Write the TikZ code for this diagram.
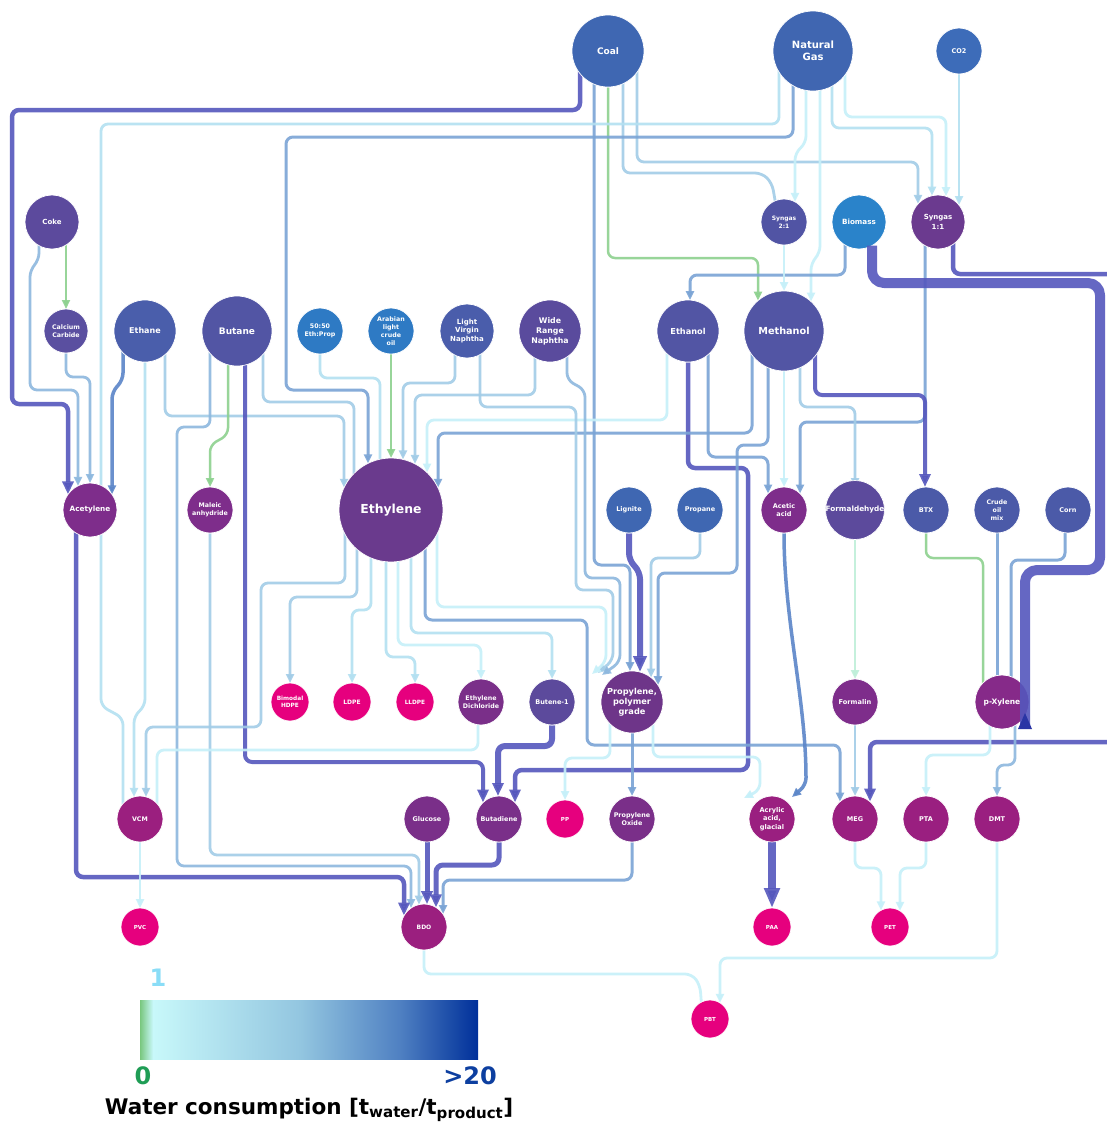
\documentclass[tikz,border=0pt]{standalone}
\usepackage{fontspec}
\setmainfont{DejaVu Sans}
\usetikzlibrary{arrows.meta,calc}
\pgfdeclarelayer{bg}
\pgfsetlayers{bg,main}
% node colours
\definecolor{nCoal}{HTML}{3F67B2}
\definecolor{nNG}{HTML}{4066B1}
\definecolor{nCO}{HTML}{3D6CB9}
\definecolor{nCoke}{HTML}{5C4A9D}
\definecolor{nCaC}{HTML}{5A4FA0}
\definecolor{nEthane}{HTML}{4A5EAB}
\definecolor{nButane}{HTML}{5255A4}
\definecolor{nEP}{HTML}{2E7AC4}
\definecolor{nLVN}{HTML}{4A5DAB}
\definecolor{nWRN}{HTML}{5A4B9D}
\definecolor{nSynA}{HTML}{5154A4}
\definecolor{nBio}{HTML}{2A83CA}
\definecolor{nSynB}{HTML}{6B3A8F}
\definecolor{nAcet}{HTML}{7E2D8B}
\definecolor{nEthy}{HTML}{6A3A8D}
\definecolor{nForm}{HTML}{5C4A9C}
\definecolor{nBTX}{HTML}{4B5AA8}
\definecolor{nPink}{HTML}{E6007E}
\definecolor{nEDC}{HTML}{7A2F89}
\definecolor{nPpg}{HTML}{6E3589}
\definecolor{nPx}{HTML}{862A89}
\definecolor{nVCM}{HTML}{9B1F7F}
\definecolor{nMEG}{HTML}{9A1F80}
% line colours
\definecolor{gr}{HTML}{8DD18F}
\definecolor{mint}{HTML}{BFEFD9}
\definecolor{c1}{HTML}{C6F0F9}
\definecolor{c2}{HTML}{B3E0F1}
\definecolor{c3}{HTML}{A2CCE7}
\definecolor{c4}{HTML}{8DB8DE}
\definecolor{c5}{HTML}{7AA4D5}
\definecolor{c6}{HTML}{5A85C8}
\definecolor{c7}{HTML}{5557BD}
\definecolor{dkarrow}{HTML}{2A35A5}
% legend colours
\definecolor{lgA}{HTML}{79C77E}
\definecolor{lgB}{HTML}{C8F8FA}
\definecolor{lgC}{HTML}{93C6E0}
\definecolor{lgD}{HTML}{4F80C2}
\definecolor{lgE}{HTML}{00309A}
\definecolor{txOne}{HTML}{8ADDF7}
\definecolor{txZero}{HTML}{1F9D55}
\definecolor{txMax}{HTML}{0D3FA0}
\tikzset{
  nd/.style n args={4}{circle, inner sep=0pt, minimum size=#1, fill=#2, draw=white,
    line width=0.7pt, text=white, align=center, font=\bfseries\fontsize{#3}{#4}\selectfont},
  ln/.style={line width=2.8pt, rounded corners=7pt, opacity=0.9, line join=round},
  ar/.style={-{Triangle[length=9pt,width=8pt]}},
  arb/.style={-{Triangle[length=13pt,width=11pt]}},
  lgtext/.style={font=\bfseries\fontsize{24}{28}\selectfont, inner sep=0pt}
}
\begin{document}
\begin{tikzpicture}[x=1pt,y=-1pt]
\useasboundingbox (0,0) rectangle (1107,1122);
% ---------------- nodes ----------------
\node[nd={72pt}{nCoal}{9}{11}] (coal) at (608,51) {Coal};
\node[nd={80pt}{nNG}{10}{12}] (ng) at (813,51) {Natural\\Gas};
\node[nd={46pt}{nCO}{6.5}{8}] (co2) at (959,51) {CO2};
\node[nd={54pt}{nCoke}{7}{8}] (coke) at (52,222) {Coke};
\node[nd={46pt}{nSynA}{6}{7.6}] (syn21) at (784,222) {Syngas\\2:1};
\node[nd={54pt}{nBio}{7.2}{9}] (bio) at (859,222) {Biomass};
\node[nd={54pt}{nSynB}{7}{9.5}] (syn11) at (938,222) {Syngas\\1:1};
\node[nd={44pt}{nCaC}{6.3}{8.3}] (cac) at (66,331) {Calcium\\Carbide};
\node[nd={62pt}{nEthane}{8}{10}] (ethane) at (145,331) {Ethane};
\node[nd={70pt}{nButane}{9}{11}] (butane) at (237,331) {Butane};
\node[nd={46pt}{nEP}{6.3}{8}] (ep) at (320,331) {50:50\\Eth:Prop};
\node[nd={46pt}{nEP}{6.3}{8}] (arab) at (391,331) {Arabian\\light\\crude\\oil};
\node[nd={54pt}{nLVN}{7}{8.8}] (lvn) at (467,331) {Light\\Virgin\\Naphtha};
\node[nd={62pt}{nWRN}{7.8}{10}] (wrn) at (550,331) {Wide\\Range\\Naphtha};
\node[nd={62pt}{nButane}{8.2}{10}] (ethanol) at (688,331) {Ethanol};
\node[nd={80pt}{nButane}{9.7}{12}] (meth) at (784,331) {Methanol};
\node[nd={54pt}{nAcet}{7.3}{9}] (acet) at (90,510) {Acetylene};
\node[nd={46pt}{nAcet}{6.3}{8.3}] (mal) at (210,510) {Maleic\\anhydride};
\node[nd={104pt}{nEthy}{12.4}{15}] (ethy) at (391,510) {Ethylene};
\node[nd={46pt}{nCoal}{6.5}{8}] (lig) at (629,510) {Lignite};
\node[nd={46pt}{nCoal}{6.5}{8}] (prop) at (700,510) {Propane};
\node[nd={46pt}{nAcet}{6.5}{8.3}] (acac) at (784,510) {Acetic\\acid};
\node[nd={46pt}{nForm}{7.3}{8}] (form) at (855,510) {Formaldehyde};
\node[nd={46pt}{nBTX}{6.5}{8}] (btx) at (926,510) {BTX};
\node[nd={46pt}{nBTX}{6.3}{8.2}] (crude) at (997,510) {Crude\\oil\\mix};
\node[nd={46pt}{nBTX}{6.5}{8}] (corn) at (1068,510) {Corn};
\node[nd={38pt}{nPink}{5.8}{7.5}] (hdpe) at (290,702) {Bimodal\\HDPE};
\node[nd={38pt}{nPink}{6}{7.5}] (ldpe) at (352,702) {LDPE};
\node[nd={38pt}{nPink}{5.8}{7.5}] (lldpe) at (415,702) {LLDPE};
\node[nd={46pt}{nEDC}{6.3}{8}] (edc) at (481,702) {Ethylene\\Dichloride};
\node[nd={46pt}{nForm}{6.5}{8}] (but1) at (552,702) {Butene-1};
\node[nd={62pt}{nPpg}{8.2}{10.2}] (ppg) at (632,702) {Propylene,\\polymer\\grade};
\node[nd={46pt}{nAcet}{6.6}{8}] (formalin) at (855,702) {Formalin};
\node[nd={54pt}{nPx}{7.5}{9}] (px) at (1002,702) {p-Xylene};
\node[nd={46pt}{nVCM}{6.3}{8}] (vcm) at (140,819) {VCM};
\node[nd={46pt}{nEDC}{6.5}{8}] (glu) at (427,819) {Glucose};
\node[nd={46pt}{nEDC}{6.4}{8}] (bd) at (499,819) {Butadiene};
\node[nd={38pt}{nPink}{5.5}{7}] (pp) at (565,819) {PP};
\node[nd={46pt}{nEDC}{6.4}{8.2}] (po) at (632,819) {Propylene\\Oxide};
\node[nd={46pt}{nMEG}{6.6}{8.2}] (acr) at (772,819) {Acrylic\\acid,\\glacial};
\node[nd={46pt}{nMEG}{6.5}{8}] (meg) at (855,819) {MEG};
\node[nd={46pt}{nMEG}{6.5}{8}] (pta) at (926,819) {PTA};
\node[nd={46pt}{nMEG}{6.5}{8}] (dmt) at (997,819) {DMT};
\node[nd={38pt}{nPink}{5.5}{7}] (pvc) at (140,927) {PVC};
\node[nd={46pt}{nVCM}{6}{8}] (bdo) at (424,927) {BDO};
\node[nd={38pt}{nPink}{5.5}{7}] (paa) at (772,927) {PAA};
\node[nd={38pt}{nPink}{5.5}{7}] (pet) at (890,927) {PET};
\node[nd={38pt}{nPink}{5.5}{7}] (pbt) at (710,1019) {PBT};
% ---------------- connectors (behind nodes) ----------------
\begin{pgfonlayer}{bg}
\fill[white] (0,0) rectangle (1107,1122);
% Coal
\draw[ln,c7,line width=4.5pt,arb] ($(coal)+(-28,0)$) -- (580,110) -- (12,110) -- (12,404) -- (68,404) -- ($(acet)+(-22,-15.6)$);
\draw[ln,c3,ar] ($(coal)+(29,0)$) -- (637,162) -- (918,162) -- ($(syn11)+(-20,-18.1)$);
\draw[ln,c3] ($(coal)+(15,0)$) -- (623,173) -- (762,173) -- (772,183) -- ($(syn21)+(-6,-5)$);
\draw[ln,gr,line width=2.5pt,ar] (coal) -- (608,258) -- (758,258) -- ($(meth)+(-26,-30.4)$);
\draw[ln,c5,line width=3pt,ar] ($(coal)+(-14,0)$) -- (594,565) -- (630,565) -- ($(ppg)+(-2,-30.9)$);
% Natural gas
\draw[ln,c2] ($(ng)+(-34,0)$) -- (779,124) -- (101,124) -- (101,706) -- (123,718) -- ($(vcm)+(-17,-5)$);
\draw[ln,c5,line width=3pt,ar] ($(ng)+(-20,0)$) -- (793,137) -- (286,137) -- (286,390) -- (368,390) -- ($(ethy)+(-23,-46.6)$);
\draw[ln,c1,ar] ($(ng)+(-7,0)$) -- (806,143) -- (795,153) -- ($(syn21)+(11,-20.2)$);
\draw[ln,c1,ar] ($(ng)+(7,0)$) -- (820,253) -- (811,263) -- ($(meth)+(27,-29.5)$);
\draw[ln,c2,ar] ($(ng)+(19,0)$) -- (832,128) -- (932,128) -- ($(syn11)+(-6,-26.3)$);
\draw[ln,c1,ar] ($(ng)+(32,0)$) -- (845,117) -- (946,117) -- ($(syn11)+(8,-25.8)$);
\draw[ln,c2,ar] (co2) -- ($(syn11)+(21,-17)$);
% Coke / calcium carbide / ethane
\draw[ln,gr,line width=2.5pt,ar] ($(coke)+(14,0)$) -- ($(cac)+(0,-22)$);
\draw[ln,c4,ar] ($(coke)+(-13,0)$) -- (39,260) -- (30,270) -- (30,390) -- (78,390) -- ($(acet)+(-12,-24.2)$);
\draw[ln,c4,ar] (cac) -- (66,377) -- (90,377) -- ($(acet)+(0,-27)$);
\draw[ln,c6,line width=3.5pt,ar] ($(ethane)+(-22,0)$) -- (123,380) -- (112,392) -- ($(acet)+(22,-15.6)$);
\draw[ln,c2,ar] (ethane) -- (145,706) -- (134,716) -- ($(vcm)+(-6,-22.2)$);
\draw[ln,c3,ar] ($(ethane)+(20,0)$) -- (165,416) -- (344,416) -- ($(ethy)+(-47,-22.25)$);
% Syngas / biomass
\draw[ln,c5,line width=3pt,ar] ($(bio)+(-14,0)$) -- (845,275) -- (690,275) -- ($(ethanol)+(2,-30.9)$);
\draw[ln,c7,line width=4.5pt,arb] ($(syn11)+(15,0)$) -- (953,274) -- (1125,274) -- (1125,742) -- (870,742) -- ($(meg)+(15,-17.4)$);
\draw[ln,c5,line width=3pt,ar] ($(syn11)+(-13,0)$) -- (925,422) -- (800,422) -- ($(acac)+(16,-16.5)$);
\draw[ln,c1,ar] (syn21) -- ($(meth)+(0,-40)$);
% Ethanol
\draw[ln,c1,ar] ($(ethanol)+(-21,0)$) -- (667,420) -- (427,420) -- ($(ethy)+(36,-37.5)$);
\draw[ln,c7,line width=4.5pt,arb] (ethanol) -- (688,468) -- (748,468) -- (748,770) -- (515,770) -- ($(bd)+(16,-16.5)$);
\draw[ln,c5,line width=3pt,ar] ($(ethanol)+(20,0)$) -- (708,457) -- (768,457) -- ($(acac)+(-16,-16.5)$);
% Methanol
\draw[ln,c5,line width=3pt,ar] ($(meth)+(-32,0)$) -- (752,433) -- (438,433) -- ($(ethy)+(47,-22.25)$);
\draw[ln,c5,line width=3pt,ar] ($(meth)+(-16,0)$) -- (768,445) -- (737,445) -- (737,573) -- (658,573) -- ($(ppg)+(26,-16.9)$);
\draw[ln,c1,ar] (meth) -- ($(acac)+(0,-23)$);
\draw[ln,c3,ar] ($(meth)+(16,0)$) -- (800,407) -- (855,407) -- ($(form)+(0,-23)$);
\draw[ln,c7,line width=4pt,arb] ($(meth)+(31,0)$) -- (815,395) -- (925,395) -- ($(btx)+(-1,-23)$);
% Propylene feeds
\draw[ln,c3,ar] (prop) -- (700,558) -- (651,558) -- ($(ppg)+(19,-24.5)$);
\draw[ln,c7,line width=6pt,-{Triangle[length=16pt,width=13pt]}] (lig) -- (629,560) -- (640,572) -- ($(ppg)+(8,-29.95)$);
\draw[ln,c3,ar] ($(lvn)+(13,0)$) -- (480,407) -- (576,407) -- (576,590) -- (613,590) -- (613,660) -- (598,673);
\draw[ln,c4,ar] ($(wrn)+(17,0)$) -- (567,380) -- (585,390) -- (585,578) -- (620,578) -- (620,662) -- (602,675);
\draw[ln,c1,ar] ($(ethy)+(46,0)$) -- (437,607) -- (606,607) -- (606,662) -- (592,674);
% Ethylene feeds
\draw[ln,c3,ar] ($(lvn)+(-12,0)$) -- (455,383) -- (403,383) -- ($(ethy)+(12,-50.6)$);
\draw[ln,c3,ar] ($(wrn)+(-15,0)$) -- (535,395) -- (415,395) -- ($(ethy)+(24,-46.1)$);
\draw[ln,gr,line width=2.5pt,ar] (arab) -- ($(ethy)+(0,-52)$);
\draw[ln,c2] (ep) -- (320,378) -- (380,378) -- ($(ethy)+(-11,-40)$);
\draw[ln,c3] ($(butane)+(26,0)$) -- (263,402) -- (354,402) -- ($(ethy)+(-37,-25)$);
% Butane
\draw[ln,c4,ar] ($(butane)+(-27,0)$) -- (210,427) -- (177,427) -- (177,866) -- (411,866) -- ($(bdo)+(-13,-19)$);
\draw[ln,gr,line width=2.5pt,ar] ($(butane)+(-9,0)$) -- (228,435) -- (210,445) -- ($(mal)+(0,-23)$);
\draw[ln,c7,line width=4pt,arb] ($(butane)+(8,0)$) -- (245,762) -- (483,762) -- ($(bd)+(-16,-16.5)$);
% BDO feeds
\draw[ln,c3,ar] (mal) -- (210,855) -- (419,855) -- ($(bdo)+(-5,-22.45)$);
\draw[ln,c7,line width=4.5pt,arb] ($(acet)+(-14,0)$) -- (76,877) -- (404,877) -- ($(bdo)+(-20,-11.4)$);
\draw[ln,c7,line width=5pt,arb] (glu) -- ($(bdo)+(3,-22.8)$);
\draw[ln,c7,line width=5pt,arb] (bd) -- (499,865) -- (436,865) -- ($(bdo)+(12,-19.6)$);
\draw[ln,c5,line width=3pt,ar] (po) -- (632,880) -- (443,880) -- ($(bdo)+(19,-13)$);
\draw[ln,c7,line width=6pt,arb] (but1) -- (552,746) -- (498,746) -- ($(bd)+(-1,-23)$);
% VCM feeds
\draw[ln,c1] ($(edc)+(-3,0)$) -- (478,750) -- (157,750) -- ($(vcm)+(17,-5)$);
\draw[ln,c3,ar] ($(ethy)+(-46,0)$) -- (345,583) -- (261,583) -- (261,727) -- (146,727) -- ($(vcm)+(6,-22.2)$);
% Ethylene products
\draw[ln,c3,ar] ($(ethy)+(-34,0)$) -- (357,597) -- (290,597) -- ($(hdpe)+(0,-19)$);
\draw[ln,c2,ar] ($(ethy)+(-20,0)$) -- (371,610) -- (352,610) -- ($(ldpe)+(0,-19)$);
\draw[ln,c2,ar] ($(ethy)+(-5,0)$) -- (386,657) -- (415,657) -- ($(lldpe)+(0,-19)$);
\draw[ln,c1,ar] ($(ethy)+(7,0)$) -- (398,645) -- (481,645) -- ($(edc)+(0,-23)$);
\draw[ln,c2,ar] ($(ethy)+(20,0)$) -- (411,633) -- (552,633) -- ($(but1)+(0,-23)$);
\draw[ln,c5,line width=3pt,ar] ($(ethy)+(34,0)$) -- (425,620) -- (587,620) -- (587,745) -- (840,745) -- ($(meg)+(-15,-17.4)$);
% Propylene products
\draw[ln,c1,ar] ($(ppg)+(-22,0)$) -- (610,758) -- (565,758) -- ($(pp)+(0,-19)$);
\draw[ln,c5,line width=3pt,ar] (ppg) -- ($(po)+(0,-23)$);
\draw[ln,c1,ar] ($(ppg)+(21,0)$) -- (653,757) -- (760,757) -- (760,790) -- (744,798);
% Acetic / acrylic / formaldehyde
\draw[ln,c6,line width=3.5pt,ar] (acac) .. controls (784,620) and (806,700) .. (806,785) -- (792,797);
\draw[ln,c7,line width=8pt,-{Triangle[length=20pt,width=15pt]}] (acr) -- ($(paa)+(0,-19)$);
\draw[ln,mint,line width=2.5pt,ar] (form) -- ($(formalin)+(0,-23)$);
\draw[ln,c3,ar] (formalin) -- ($(meg)+(0,-23)$);
% p-Xylene
\draw[ln,gr,line width=2.5pt] (btx) -- (926,558) -- (983,558) -- ($(px)+(-19,-10)$);
\draw[ln,c5,line width=3pt] (crude) -- ($(px)+(-5,-10)$);
\draw[ln,c5,line width=3pt] ($(corn)+(-3,0)$) -- (1065,560) -- (1011,560) -- ($(px)+(9,-10)$);
\draw[ln,c1,ar] ($(px)+(-12,0)$) -- (990,755) -- (926,755) -- ($(pta)+(0,-23)$);
\draw[ln,c4,ar] ($(px)+(13,0)$) -- (1015,765) -- (997,765) -- ($(dmt)+(0,-23)$);
% final products
\draw[ln,c1,ar] (meg) -- (855,868) -- (881,868) -- ($(pet)+(-9,-16.7)$);
\draw[ln,c1,ar] (pta) -- (926,868) -- (900,868) -- ($(pet)+(10,-16.2)$);
\draw[ln,c1,ar] (dmt) -- (997,958) -- (720,958) -- ($(pbt)+(10,-16.2)$);
\draw[ln,c1] (bdo) -- (424,974) -- (692,974) -- (700,985) -- ($(pbt)+(-8,-8)$);
\draw[ln,c1,ar] (vcm) -- ($(pvc)+(0,-19)$);
\end{pgfonlayer}
% Biomass -> p-Xylene (drawn over the nodes)
\draw[ln,c7,line width=10pt,rounded corners=12pt] ($(bio)+(13,23.7)$) -- (872,283) -- (1100,283) -- (1100,570) -- (1025,570) -- (1025,728);
\fill[dkarrow] (1018,729) -- (1032,729) -- (1025,713) -- cycle;
% ---------------- legend ----------------
\shade[left color=lgA, right color=lgB] (140,1000) rectangle (153,1059);
\shade[left color=lgB, right color=lgC] (153,1000) rectangle (300,1059);
\shade[left color=lgC, right color=lgD] (300,1000) rectangle (400,1059);
\shade[left color=lgD, right color=lgE] (400,1000) rectangle (478,1059);
\node[lgtext, text=txOne] (lone) at (158,978) {1};
\node[lgtext, text=txZero] (lzero) at (143,1076) {0};
\node[lgtext, text=txMax] (lmax) at (470,1076) {>20};
\node[font=\bfseries\fontsize{21.5}{25}\selectfont, inner sep=0pt] (ltitle) at (309,1110) {Water consumption [t\textsubscript{water}/t\textsubscript{product}]};
\end{tikzpicture}
\end{document}
